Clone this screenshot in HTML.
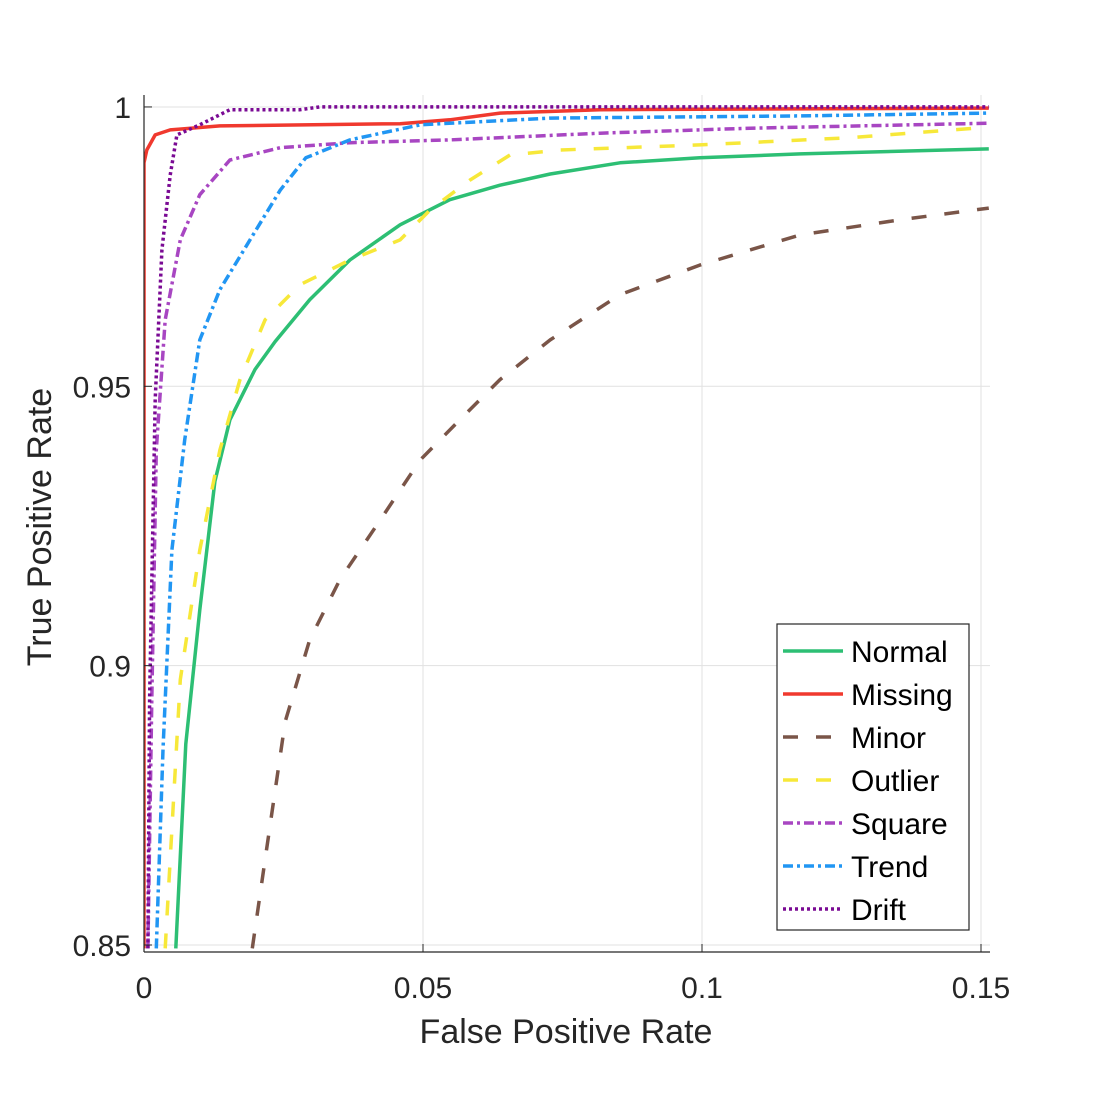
<!DOCTYPE html>
<html><head><meta charset="utf-8"><style>
body{margin:0;background:#fff}
svg text{font-family:"Liberation Sans",sans-serif;fill:#262626}
</style></head><body>
<svg id="chart" width="1094" height="1094" viewBox="0 0 1094 1094" xmlns="http://www.w3.org/2000/svg">
<defs><clipPath id="clip"><rect x="144" y="95" width="846" height="857"/></clipPath></defs>
<g id="grid"></g>
<g id="series" clip-path="url(#clip)"></g>
<g id="axes"></g>
<text x="566" y="1043" font-size="34" text-anchor="middle">False Positive Rate</text>
<text transform="translate(51,527) rotate(-90)" font-size="34" text-anchor="middle">True Positive Rate</text>
<g id="legend"></g>
</svg>
<script>
const xTicks=[0,0.05,0.1,0.15];
const xTickLabels=["0","0.05","0.1","0.15"];
const yTicks=[0.85,0.9,0.95,1];
const yTickLabels=["0.85","0.9","0.95","1"];
const seriesNames=["Normal","Missing","Minor","Outlier","Square","Trend","Drift"];
const normalFpr=[0.0057,0.0075,0.010,0.0127,0.0154,0.0199,0.0235,0.0297,0.0369,0.0459,0.0548,0.0638,0.0728,0.0853,0.0996,0.1176,0.1514];
const normalTpr=[0.8494,0.886,0.910,0.933,0.944,0.953,0.958,0.9655,0.9726,0.9789,0.9834,0.986,0.988,0.990,0.9909,0.9916,0.9925];
const missingFpr=[0,0,0.0005,0.002,0.0047,0.0136,0.0459,0.0548,0.0638,0.0817,0.1514];
const missingTpr=[0.8494,0.99,0.9923,0.995,0.9959,0.9966,0.997,0.9977,0.9989,0.9995,0.9998];
const minorFpr=[0.0194,0.0217,0.0253,0.0297,0.0351,0.0423,0.0495,0.0566,0.0638,0.0728,0.0853,0.0996,0.1176,0.1355,0.1514];
const minorTpr=[0.8494,0.8653,0.890,0.9046,0.9154,0.926,0.9368,0.944,0.9512,0.9583,0.9664,0.9717,0.9771,0.9798,0.9819];
const outlierFpr=[0.0038,0.0065,0.010,0.0136,0.0172,0.0217,0.028,0.0369,0.0459,0.0513,0.0584,0.0656,0.0746,0.0996,0.1265,0.1514];
const outlierTpr=[0.8494,0.8975,0.9207,0.9386,0.9512,0.9619,0.9682,0.9726,0.9762,0.9816,0.9869,0.9914,0.9923,0.9932,0.9945,0.9964];
const squareFpr=[0.0007,0.0014,0.0022,0.0038,0.0065,0.010,0.0154,0.0244,0.0369,0.0548,0.0817,0.1086,0.1514];
const squareTpr=[0.8494,0.894,0.9386,0.9619,0.9762,0.9843,0.9905,0.9927,0.9936,0.9941,0.9953,0.9962,0.9971];
const trendFpr=[0.0022,0.0034,0.005,0.0073,0.010,0.0136,0.019,0.0244,0.029,0.0369,0.0495,0.0728,0.1176,0.1514];
const trendTpr=[0.8494,0.885,0.9207,0.9404,0.9583,0.9673,0.9762,0.9851,0.9909,0.9941,0.9968,0.998,0.9984,0.9989];
const driftFpr=[0.0007,0.001,0.002,0.0032,0.0047,0.0059,0.010,0.0154,0.028,0.0315,0.1514];
const driftTpr=[0.8494,0.894,0.9476,0.9744,0.9878,0.995,0.9968,0.9995,0.9995,1,1];

const NS="http://www.w3.org/2000/svg";
const X0=144,X1=990,Y0=952,Y1=95;
function xs(v){return 144+v*5580;}
function ys(v){return 945-(v-0.85)*5587;}
function mk(t,a,p){const e=document.createElementNS(NS,t);for(const k in a)e.setAttribute(k,a[k]);p.appendChild(e);return e;}
const grid=document.getElementById('grid'),axes=document.getElementById('axes'),ser=document.getElementById('series'),leg=document.getElementById('legend');
xTicks.forEach((t,i)=>{
 const gl=mk('line',{x1:xs(t),x2:xs(t),y1:Y0,y2:Y1,stroke:'#e1e1e1','stroke-width':1},grid);
 
 
 const tk=mk('line',{x1:xs(t),x2:xs(t),y1:Y0,y2:Y0-8,stroke:'#262626','stroke-width':1},axes);
 
 
 const tx=mk('text',{x:xs(t),y:998,'font-size':30,'text-anchor':'middle'},axes);
 tx.textContent=xTickLabels[i];
 
 
});
yTicks.forEach((t,i)=>{
 const gl=mk('line',{x1:X0,x2:X1,y1:ys(t),y2:ys(t),stroke:'#e1e1e1','stroke-width':1},grid);
 
 
 const tk=mk('line',{x1:X0,x2:X0+8,y1:ys(t),y2:ys(t),stroke:'#262626','stroke-width':1},axes);
 
 
 const tx=mk('text',{x:131,y:ys(t)+11,'font-size':30,'text-anchor':'end'},axes);
 tx.textContent=yTickLabels[i];
 
 
});
const xa=mk('line',{x1:X0,x2:X1,y1:Y0,y2:Y0,stroke:'#262626','stroke-width':1.2},axes);


const ya=mk('line',{x1:X0,x2:X0,y1:Y0,y2:Y1,stroke:'#262626','stroke-width':1.2},axes);


const styles=[
 {c:'#2dbf74',d:'',w:3.5},
 {c:'#f0392e',d:'',w:3.5},
 {c:'#7a5548',d:'15 18',w:3.5},
 {c:'#f7e839',d:'15 18',w:3.5},
 {c:'#a846c2',d:'10 4 3 4',w:3.5},
 {c:'#2196f3',d:'10 4 3 4',w:3.5},
 {c:'#7a0a94',d:'3 3',w:3.5}];
const data=[[normalFpr,normalTpr],[missingFpr,missingTpr],[minorFpr,minorTpr],[outlierFpr,outlierTpr],[squareFpr,squareTpr],[trendFpr,trendTpr],[driftFpr,driftTpr]];
data.forEach((s,i)=>{
 const pts=s[0].map((x,j)=>xs(x).toFixed(1)+','+ys(s[1][j]).toFixed(1)).join(' ');
 const st=styles[i];
 const pl=mk('polyline',{points:pts,fill:'none',stroke:st.c,'stroke-width':st.w,'stroke-dasharray':st.d,'stroke-linejoin':'round'},ser);
 
 
});
const box=mk('rect',{x:777,y:624,width:192,height:306,fill:'#fff',stroke:'#262626','stroke-width':1.2},leg);


seriesNames.forEach((n,i)=>{
 const y=651+i*43,st=styles[i];
 const ln=mk('line',{x1:783,x2:843,y1:y,y2:y,stroke:st.c,'stroke-width':st.w,'stroke-dasharray':st.d},leg);
 
 
 const tx=mk('text',{x:851,y:y+11,'font-size':30},leg);
 tx.textContent=n;
 
 
 tx.style.fill='#000';
});
</script>
</body></html>
